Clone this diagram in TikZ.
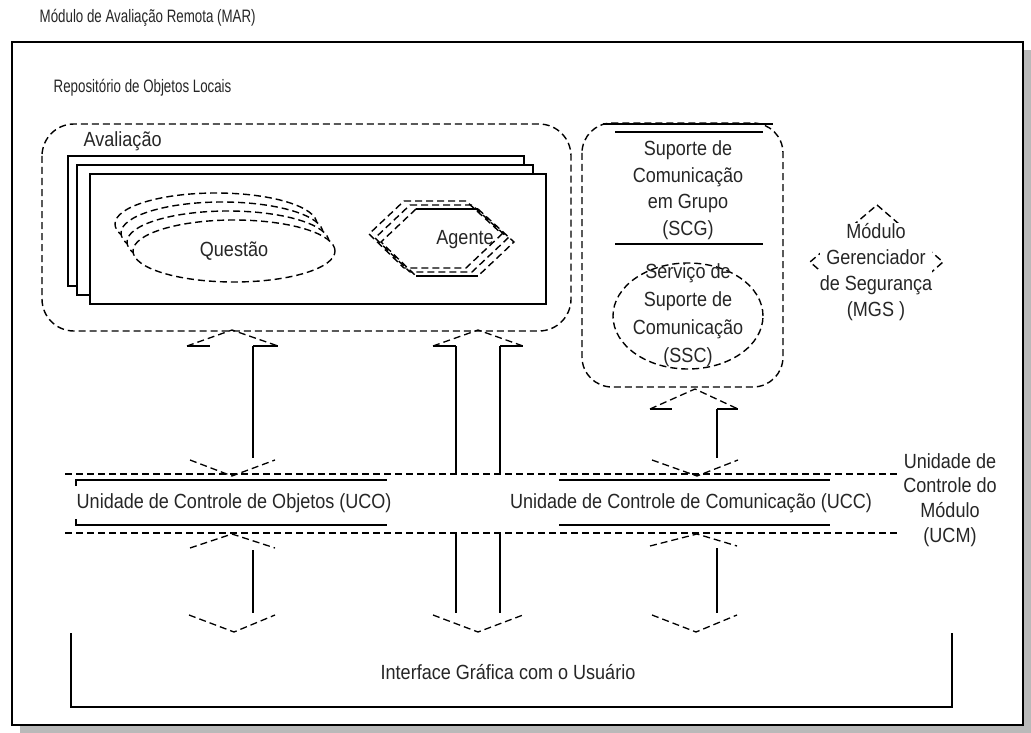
\documentclass[tikz,border=0pt]{standalone}
\usepackage{fontspec}
\setmainfont{Liberation Sans}[FakeStretch=0.88]
\newfontfamily\narrowfont{Liberation Sans}[FakeStretch=0.74]
\begin{document}
\begin{tikzpicture}[x=1pt,y=-1pt,line width=1.4pt,
  dsh/.style={dash pattern=on 7pt off 4pt},
  txt/.style={font=\fontsize{20.5}{26.5}\selectfont, inner sep=0pt, align=center, text=black!85},
  small/.style={font=\narrowfont\fontsize{18}{21}\selectfont, inner sep=0pt, text=black!85},
  headd/.style={dsh, line width=1.3pt}]
\useasboundingbox (0,0) rectangle (1031,733);

% frame with drop shadow
\fill[gray!55] (20,50) rectangle (1031,733);
\draw[fill=white, line width=2.4pt] (12,42) rectangle (1023,725);
\node[small, anchor=west] (title) at (39,18) {Módulo de Avaliação Remota (MAR)};
\node[small, anchor=west] (repo) at (53,88) {Repositório de Objetos Locais};

% local object repository: evaluation container
\draw[dsh, rounded corners=32pt] (42,124) rectangle (571,331);
\node[txt, anchor=west] (aval) at (83,141) {Avaliação};
\draw[fill=white] (68,156) rectangle (524,286);
\draw[fill=white] (77,165) rectangle (533,295);
\draw[fill=white] (90,174) rectangle (546,304);

% question (stacked ellipses)
\foreach \k in {3,2,1,0}
  \draw[dsh, fill=white] ({234-6*\k},{251-9*\k}) ellipse [x radius=101pt, y radius=31pt];
\node[txt] (quest) at (234,251) {Questão};

% agent (stacked hexagons)
\foreach \o/\v in {-12/-8,-6/-4}
  \draw[dsh] ({416+\o},{209+\v}) -- ({478+\o},{209+\v}) -- ({514+\o},{242+\v}) -- ({478+\o},{276+\v}) -- ({416+\o},{276+\v}) -- ({381+\o},{242+\v}) -- cycle;
\draw (416,209) -- (478,209);
\draw (416,276) -- (478,276);
\draw[dsh] (416,209) -- (381,242) -- (416,276);
\draw[dsh] (478,209) -- (514,242) -- (478,276);
\node[txt] (agente) at (465,240) {Agente};

% communication container
\draw[dsh, rounded corners=30pt] (582,123) rectangle (783,387);
\draw (603,124) -- (773,124);
\draw (615,132) -- (763,132);
\draw (615,244) -- (763,244);
\node[txt] (scg) at (688,190) {Suporte de\\Comunicação\\em Grupo\\(SCG)};
\draw[dsh] (688,316) ellipse [x radius=75pt, y radius=53pt];
\node[txt, font=\fontsize{20.5}{28}\selectfont] (ssc) at (688,315) {Serviço de\\Suporte de\\Comunicação\\(SSC)};

% security manager
\draw[dsh] (877,205) -- (943,262) -- (877,320) -- (810,262) -- cycle;
\node[txt, fill=white, font=\fontsize{20.5}{26}\selectfont] (mgs) at (876,272) {Módulo\\Gerenciador\\de Segurança\\(MGS )};

% module control unit band
\draw[dsh] (65,474) -- (897,474);
\draw[dsh] (65,533) -- (897,533);
\draw (76,486) -- (76,480) -- (387,480);
\draw (76,519) -- (76,525) -- (387,525);
\node[txt, anchor=west] (uco) at (76,503) {Unidade de Controle de Objetos (UCO)};
\draw (559,480) -- (830,480);
\draw (559,525) -- (830,525);
\node[txt] (ucc) at (691,503) {Unidade de Controle de Comunicação (UCC)};
\node[txt, font=\fontsize{20.5}{24.7}\selectfont] (ucm) at (950,500) {Unidade de\\Controle do\\Módulo\\(UCM)};

% arrow: objects <-> UCO <-> interface
\draw (187,346) -- (210,346);
\draw (253,346) -- (278,346);
\draw[headd] (187,346) -- (232,330) -- (278,346);
\draw (253,346) -- (253,458);
\draw[headd] (190,460) -- (232,476) -- (275,460);
\draw[headd] (190,548) -- (232,534) -- (275,548);
\draw (253,550) -- (253,613);
\draw[headd] (189,615) -- (234,632) -- (275,615);

% arrow: agent <-> band <-> interface
\draw (433,346) -- (456,346);
\draw (500,346) -- (523,346);
\draw[headd] (433,346) -- (478,330) -- (523,346);
\draw (456,346) -- (456,474);
\draw (500,346) -- (500,474);
\draw (456,533) -- (456,613);
\draw (500,533) -- (500,613);
\draw[headd] (433,615) -- (478,632) -- (523,615);

% arrow: communication <-> UCC <-> interface
\draw (650,409) -- (672,409);
\draw (717,409) -- (738,409);
\draw[headd] (650,409) -- (695,389) -- (738,409);
\draw (717,409) -- (717,458);
\draw[headd] (652,460) -- (697,476) -- (738,460);
\draw[headd] (650,546) -- (697,534) -- (737,546);
\draw (717,548) -- (717,613);
\draw[headd] (652,615) -- (696,632) -- (737,615);

% graphical user interface
\draw (71,633) -- (71,707) -- (952,707) -- (952,633);
\node[txt] (gui) at (508,672) {Interface Gráfica com o Usuário};
\end{tikzpicture}
\end{document}
